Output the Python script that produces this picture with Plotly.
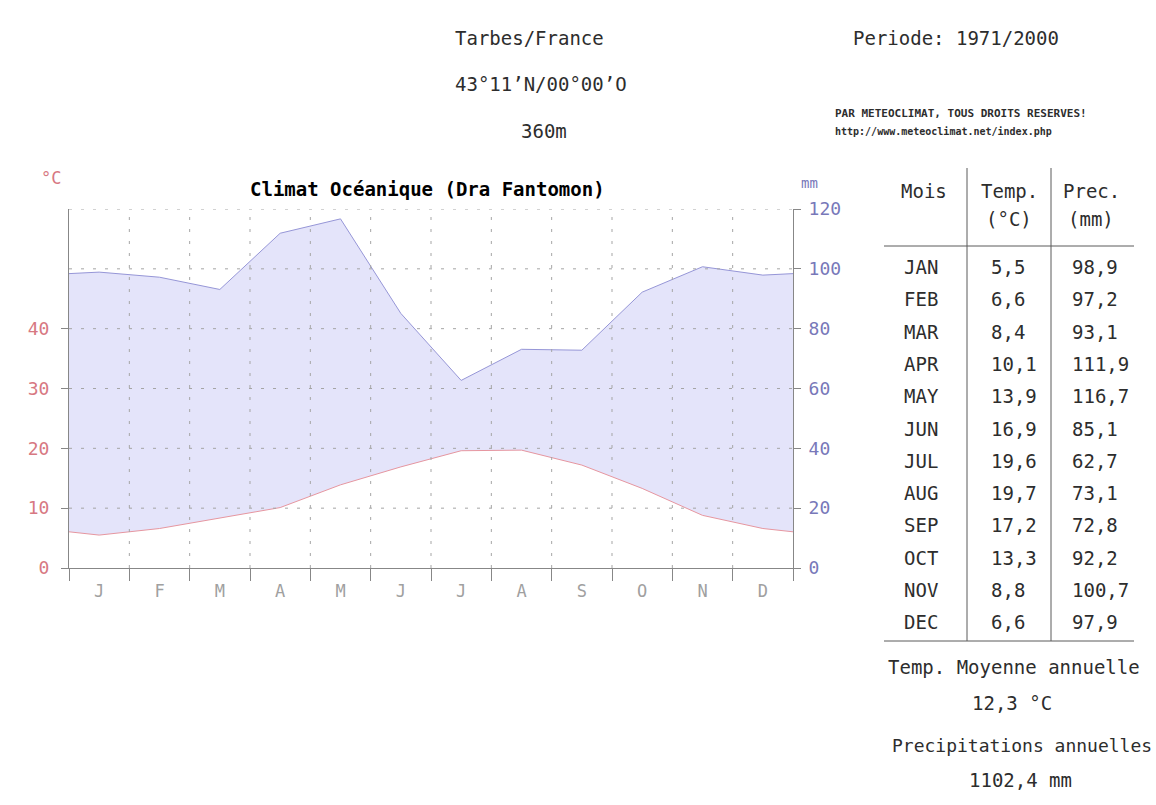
import plotly.graph_objects as go

W, H = 1156, 805

# ---------------- data ----------------
month_letters = ["J", "F", "M", "A", "M", "J", "J", "A", "S", "O", "N", "D"]
month_codes = ["JAN", "FEB", "MAR", "APR", "MAY", "JUN", "JUL", "AUG", "SEP", "OCT", "NOV", "DEC"]
temp_c = [5.5, 6.6, 8.4, 10.1, 13.9, 16.9, 19.6, 19.7, 17.2, 13.3, 8.8, 6.6]
prec_mm = [98.9, 97.2, 93.1, 111.9, 116.7, 85.1, 62.7, 73.1, 72.8, 92.2, 100.7, 97.9]
temp_ticks = [0, 10, 20, 30, 40]
prec_ticks = [0, 20, 40, 60, 80, 100, 120]
annual_temp_text = "12,3 °C"
annual_prec_text = "1102,4 mm"

FONT = "DejaVu Sans Mono"
GRAY = "rgb(135,135,135)"
PINK = "rgb(215,120,130)"
SLATE = "rgb(120,120,185)"
TXT = "rgb(45,45,45)"


def px(x):
    return x / W


def py(y):
    return 1 - y / H


def fr(v):
    return f"{v:.1f}".replace(".", ",")


# month centres; the curves are closed at both edges with the Dec/Jan mean (as in the original)
xc = [i + 0.5 for i in range(12)]


def closed(vals):
    edge = (vals[0] + vals[-1]) / 2
    return [0] + xc + [12], [edge] + vals + [edge]


xp, yp = closed(prec_mm)
xt, yt = closed(temp_c)

fig = go.Figure()
fig.add_trace(go.Scatter(x=xp, y=yp, xaxis="x", yaxis="y", mode="lines",
                         line=dict(color="rgb(150,150,215)", width=1),
                         fill="tozeroy", fillcolor="rgb(228,228,250)",
                         hoverinfo="skip", showlegend=False))
fig.add_trace(go.Scatter(x=xt, y=yt, xaxis="x", yaxis="y2", mode="lines",
                         line=dict(color="rgb(230,150,160)", width=1),
                         fill="tozeroy", fillcolor="white",
                         hoverinfo="skip", showlegend=False))
fig.add_trace(go.Scatter(x=[None], y=[None], xaxis="x2", yaxis="y",
                         mode="markers", hoverinfo="skip", showlegend=False))

x0, x1 = px(69), px(793)
y0, y1 = py(568), py(209)

fig.update_layout(
    template="none",
    width=W, height=H, autosize=False,
    margin=dict(l=0, r=0, t=0, b=0, pad=0, autoexpand=False),
    paper_bgcolor="white", plot_bgcolor="rgba(0,0,0,0)",
    font=dict(family=FONT, color=TXT),
    xaxis=dict(domain=[x0, x1], range=[0, 12], tickvals=list(range(13)),
               showticklabels=False, ticks="outside", ticklen=12, tickcolor=GRAY,
               showline=True, linecolor=GRAY, linewidth=1, showgrid=False,
               zeroline=False, anchor="y", fixedrange=True, automargin=False),
    xaxis2=dict(overlaying="x", range=[0, 12], tickvals=xc, ticktext=month_letters,
                ticks="outside", ticklen=8, tickcolor="rgba(0,0,0,0)",
                showline=False, showgrid=False, zeroline=False, side="bottom",
                anchor="y", tickfont=dict(family=FONT, size=17, color="rgb(160,160,160)"),
                fixedrange=True, automargin=False),
    yaxis=dict(domain=[y0, y1], range=[0, 120], side="right", tickvals=prec_ticks,
               ticks="outside", ticklen=7, tickcolor=GRAY, showline=True,
               linecolor=GRAY, showgrid=False, zeroline=False, anchor="x",
               ticklabelstandoff=4,
               tickfont=dict(family=FONT, size=18, color=SLATE), fixedrange=True,
               automargin=False),
    yaxis2=dict(overlaying="y", range=[0, 60], side="left", tickvals=temp_ticks,
                ticks="outside", ticklen=7, tickcolor=GRAY, showline=True,
                linecolor=GRAY, showgrid=False, zeroline=False, anchor="x",
                ticklabelstandoff=8,
                tickfont=dict(family=FONT, size=18, color=PINK), fixedrange=True,
                automargin=False),
)

shapes = []
grid = dict(color="rgb(165,165,165)", width=1, dash="3px,9px")
for v in prec_ticks[1:]:
    shapes.append(dict(type="line", xref="x", yref="y", x0=0, x1=12, y0=v, y1=v,
                       line=grid, layer="above"))
for m in range(1, 12):
    shapes.append(dict(type="line", xref="x", yref="y", x0=m, x1=m, y0=0, y1=120,
                       line=grid, layer="above"))

# table lines
tline = dict(color="rgb(90,90,90)", width=1)
for xv in (967, 1051):
    shapes.append(dict(type="line", xref="paper", yref="paper", x0=px(xv), x1=px(xv),
                       y0=py(168), y1=py(641), line=tline))
for yv in (246, 641):
    shapes.append(dict(type="line", xref="paper", yref="paper", x0=px(884), x1=px(1134),
                       y0=py(yv), y1=py(yv), line=tline))
fig.update_layout(shapes=shapes)

ann = []


def text(t, x, y, size=19, color=TXT, anchor="center", bold=False):
    ann.append(dict(text=f"<b>{t}</b>" if bold else t, x=px(x), y=py(y),
                    xref="paper", yref="paper", xanchor=anchor, yanchor="middle",
                    showarrow=False, font=dict(family=FONT, size=size, color=color)))


text("Tarbes/France", 529, 38)
text("43°11’N/00°00’O", 541, 84)
text("360m", 544, 131)
text("Periode: 1971/2000", 956, 38)
text("PAR METEOCLIMAT, TOUS DROITS RESERVES!", 833, 113, size=11, anchor="left", bold=True)
text("http://www.meteoclimat.net/index.php", 833, 131, size=10, anchor="left", bold=True)

text("Climat Océanique (Dra Fantomon)", 427, 189, size=19, color="black", bold=True)
text("°C", 51, 178, size=17, color=PINK)
text("mm", 809, 183, size=14, color=SLATE)

text("Mois", 924, 191)
text("Temp.", 1009, 191)
text("(°C)", 1009, 219)
text("Prec.", 1091, 191)
text("(mm)", 1091, 219)
for i, (m, t, p) in enumerate(zip(month_codes, temp_c, prec_mm)):
    yy = 267 + 32.3 * i
    text(m, 921, yy)
    text(fr(t), 989, yy, anchor="left")
    text(fr(p), 1070, yy, anchor="left")

text("Temp. Moyenne annuelle", 1014, 667)
text(annual_temp_text, 1012, 703)
text("Precipitations annuelles", 1154, 745, size=18, anchor="right")
text(annual_prec_text, 1020, 780)

fig.update_layout(annotations=ann)

fig.write_html("out.html", config={"displayModeBar": False},
               post_script="document.body.style.margin='0';document.body.style.overflow='hidden';")
